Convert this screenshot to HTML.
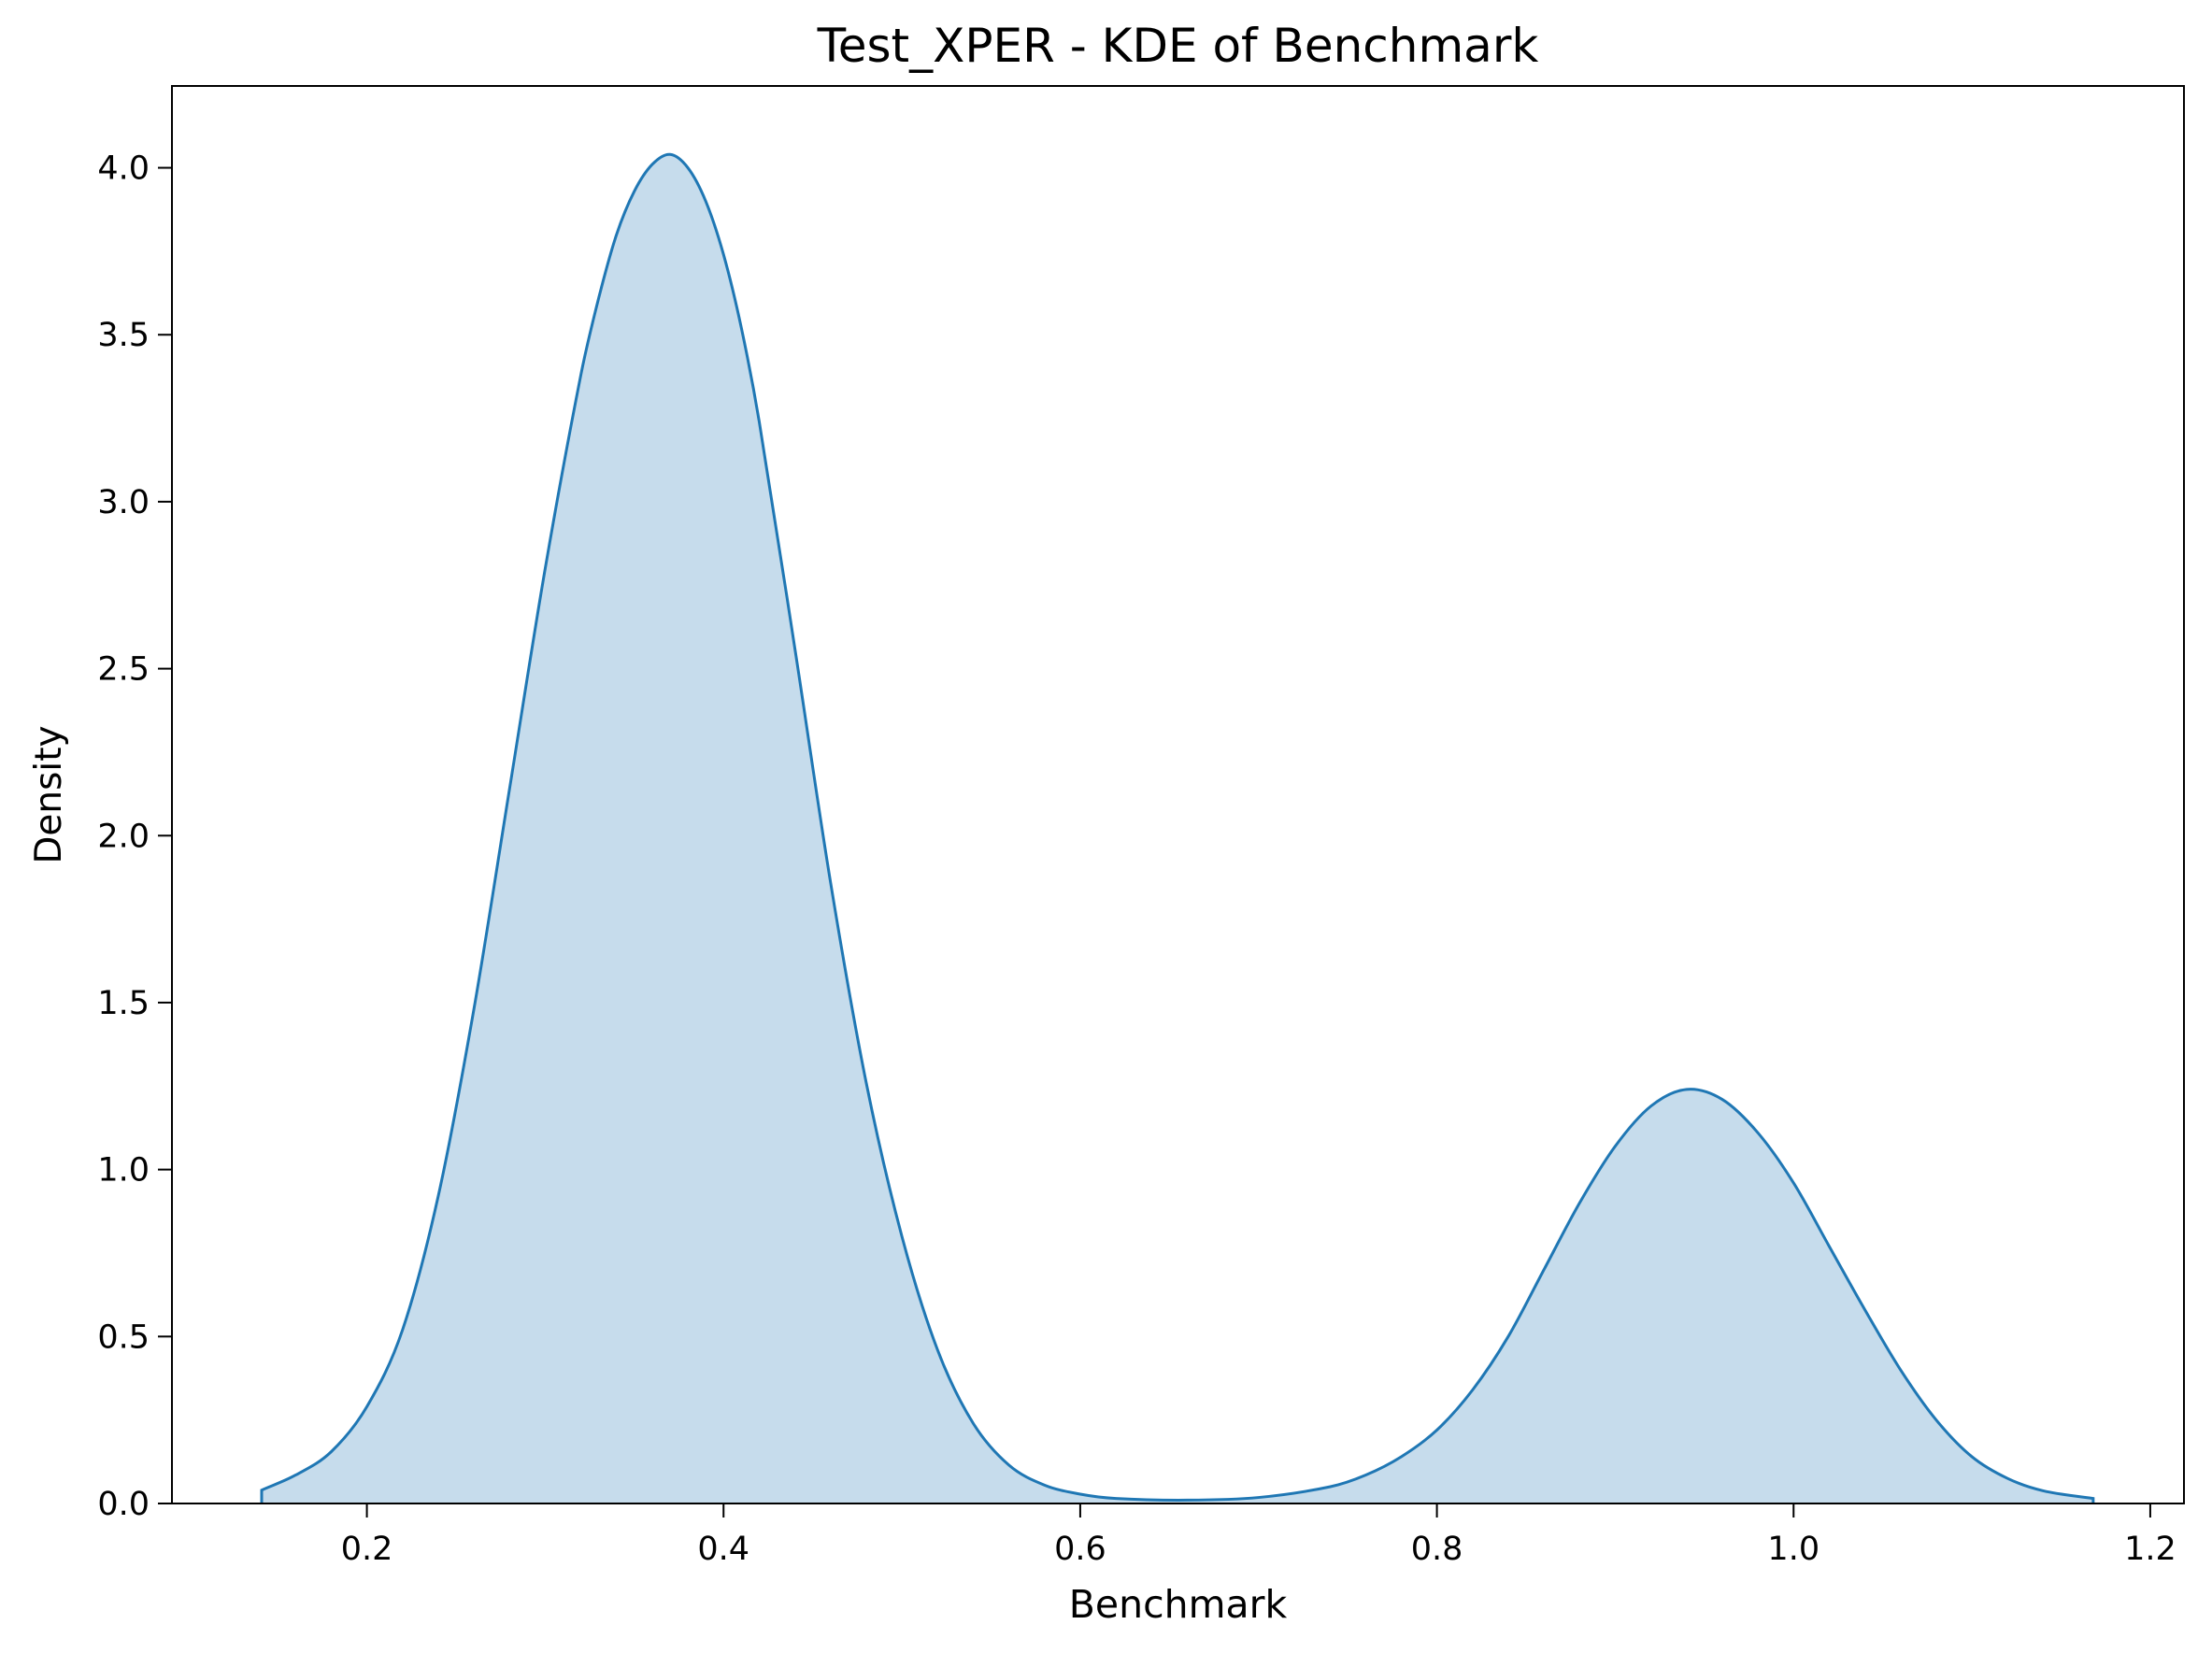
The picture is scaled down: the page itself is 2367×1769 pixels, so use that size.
<!DOCTYPE html>
<html><head><meta charset="utf-8"><style>body{margin:0;background:#fff}svg{display:block}</style></head>
<body>
<svg id="chart" width="2367" height="1769" xmlns="http://www.w3.org/2000/svg" font-family="DejaVu Sans, Liberation Sans, sans-serif"></svg>
<script>
const xs=[0.141,0.16,0.18,0.20,0.22,0.24,0.26,0.28,0.30,0.32,0.33,0.34,0.35,0.36,0.37,0.38,0.39,0.40,0.41,0.42,0.44,0.46,0.48,0.50,0.52,0.54,0.56,0.58,0.60,0.62,0.66,0.70,0.74,0.76,0.78,0.80,0.82,0.84,0.86,0.88,0.90,0.92,0.94,0.96,0.98,1.00,1.02,1.04,1.06,1.08,1.10,1.12,1.14,1.168];
const density=[0.04,0.085,0.155,0.29,0.52,0.92,1.48,2.14,2.80,3.38,3.61,3.80,3.93,4.01,4.04,4.00,3.90,3.74,3.52,3.24,2.56,1.86,1.26,0.80,0.46,0.24,0.115,0.055,0.028,0.015,0.01,0.018,0.05,0.085,0.14,0.22,0.34,0.50,0.70,0.90,1.07,1.19,1.24,1.21,1.11,0.96,0.77,0.58,0.40,0.25,0.14,0.075,0.038,0.015];
const xTicks=[0.2,0.4,0.6,0.8,1.0,1.2];
const yTicks=[0,0.5,1,1.5,2,2.5,3,3.5,4];
const L=184,R=2337,T=92,B=1609,xMin=0.0907,xMax=1.2189,yMin=0,yMax=4.245;
const X=v=>L+(v-xMin)/(xMax-xMin)*(R-L);
const Y=v=>B-(v-yMin)/(yMax-yMin)*(B-T);
const svg=document.getElementById('chart');const NS='http://www.w3.org/2000/svg';
function mk(t,a,p){const e=document.createElementNS(NS,t);for(const k in a)e.setAttribute(k,a[k]);(p||svg).appendChild(e);return e;}
const pts=xs.map((x,i)=>[X(x),Y(density[i])]);
let d='M'+pts[0][0]+','+pts[0][1];
for(let i=0;i<pts.length-1;i++){const p0=pts[Math.max(0,i-1)],p1=pts[i],p2=pts[i+1],p3=pts[Math.min(pts.length-1,i+2)];
const s1=(p2[0]-p1[0])/(p2[0]-p0[0]||1),s2=(p2[0]-p1[0])/(p3[0]-p1[0]||1);
d+=' C'+(p1[0]+(p2[0]-p0[0])*s1/3)+','+(p1[1]+(p2[1]-p0[1])*s1/3)+' '+(p2[0]-(p3[0]-p1[0])*s2/3)+','+(p2[1]-(p3[1]-p1[1])*s2/3)+' '+p2[0]+','+p2[1];}
const area=mk('path',{d:d+' L'+pts[pts.length-1][0]+','+Y(0)+' L'+pts[0][0]+','+Y(0)+' Z',fill:'#c6dcec',stroke:'none'});


const line=mk('path',{d:'M'+pts[0][0]+','+Y(0)+' L'+d.slice(1)+' L'+pts[pts.length-1][0]+','+Y(0),fill:'none',stroke:'#1f77b4','stroke-width':3});


const frame=mk('rect',{x:L,y:T,width:R-L,height:B-T,fill:'none',stroke:'#000','stroke-width':2});


xTicks.forEach(v=>{const g=mk('g',{});


mk('line',{x1:X(v),x2:X(v),y1:B,y2:B+15,stroke:'#000','stroke-width':2},g);
const t=mk('text',{x:X(v),y:B+60,'text-anchor':'middle','font-size':'35'},g);t.textContent=v.toFixed(1);});
yTicks.forEach(v=>{const g=mk('g',{});


mk('line',{x1:L-15,x2:L,y1:Y(v),y2:Y(v),stroke:'#000','stroke-width':2},g);
const t=mk('text',{x:L-24,y:Y(v)+12,'text-anchor':'end','font-size':'35'},g);t.textContent=v.toFixed(1);});
const tt=mk('text',{x:(L+R)/2,y:66,'text-anchor':'middle','font-size':'50'});tt.textContent='Test_XPER - KDE of Benchmark';


const xl=mk('text',{x:(L+R)/2,y:1731,'text-anchor':'middle','font-size':'41'});xl.textContent='Benchmark';


const yl=mk('text',{x:0,y:0,'text-anchor':'middle','font-size':'39',transform:'translate(65,'+((T+B)/2)+') rotate(-90)'});yl.textContent='Density';


</script>
</body></html>
